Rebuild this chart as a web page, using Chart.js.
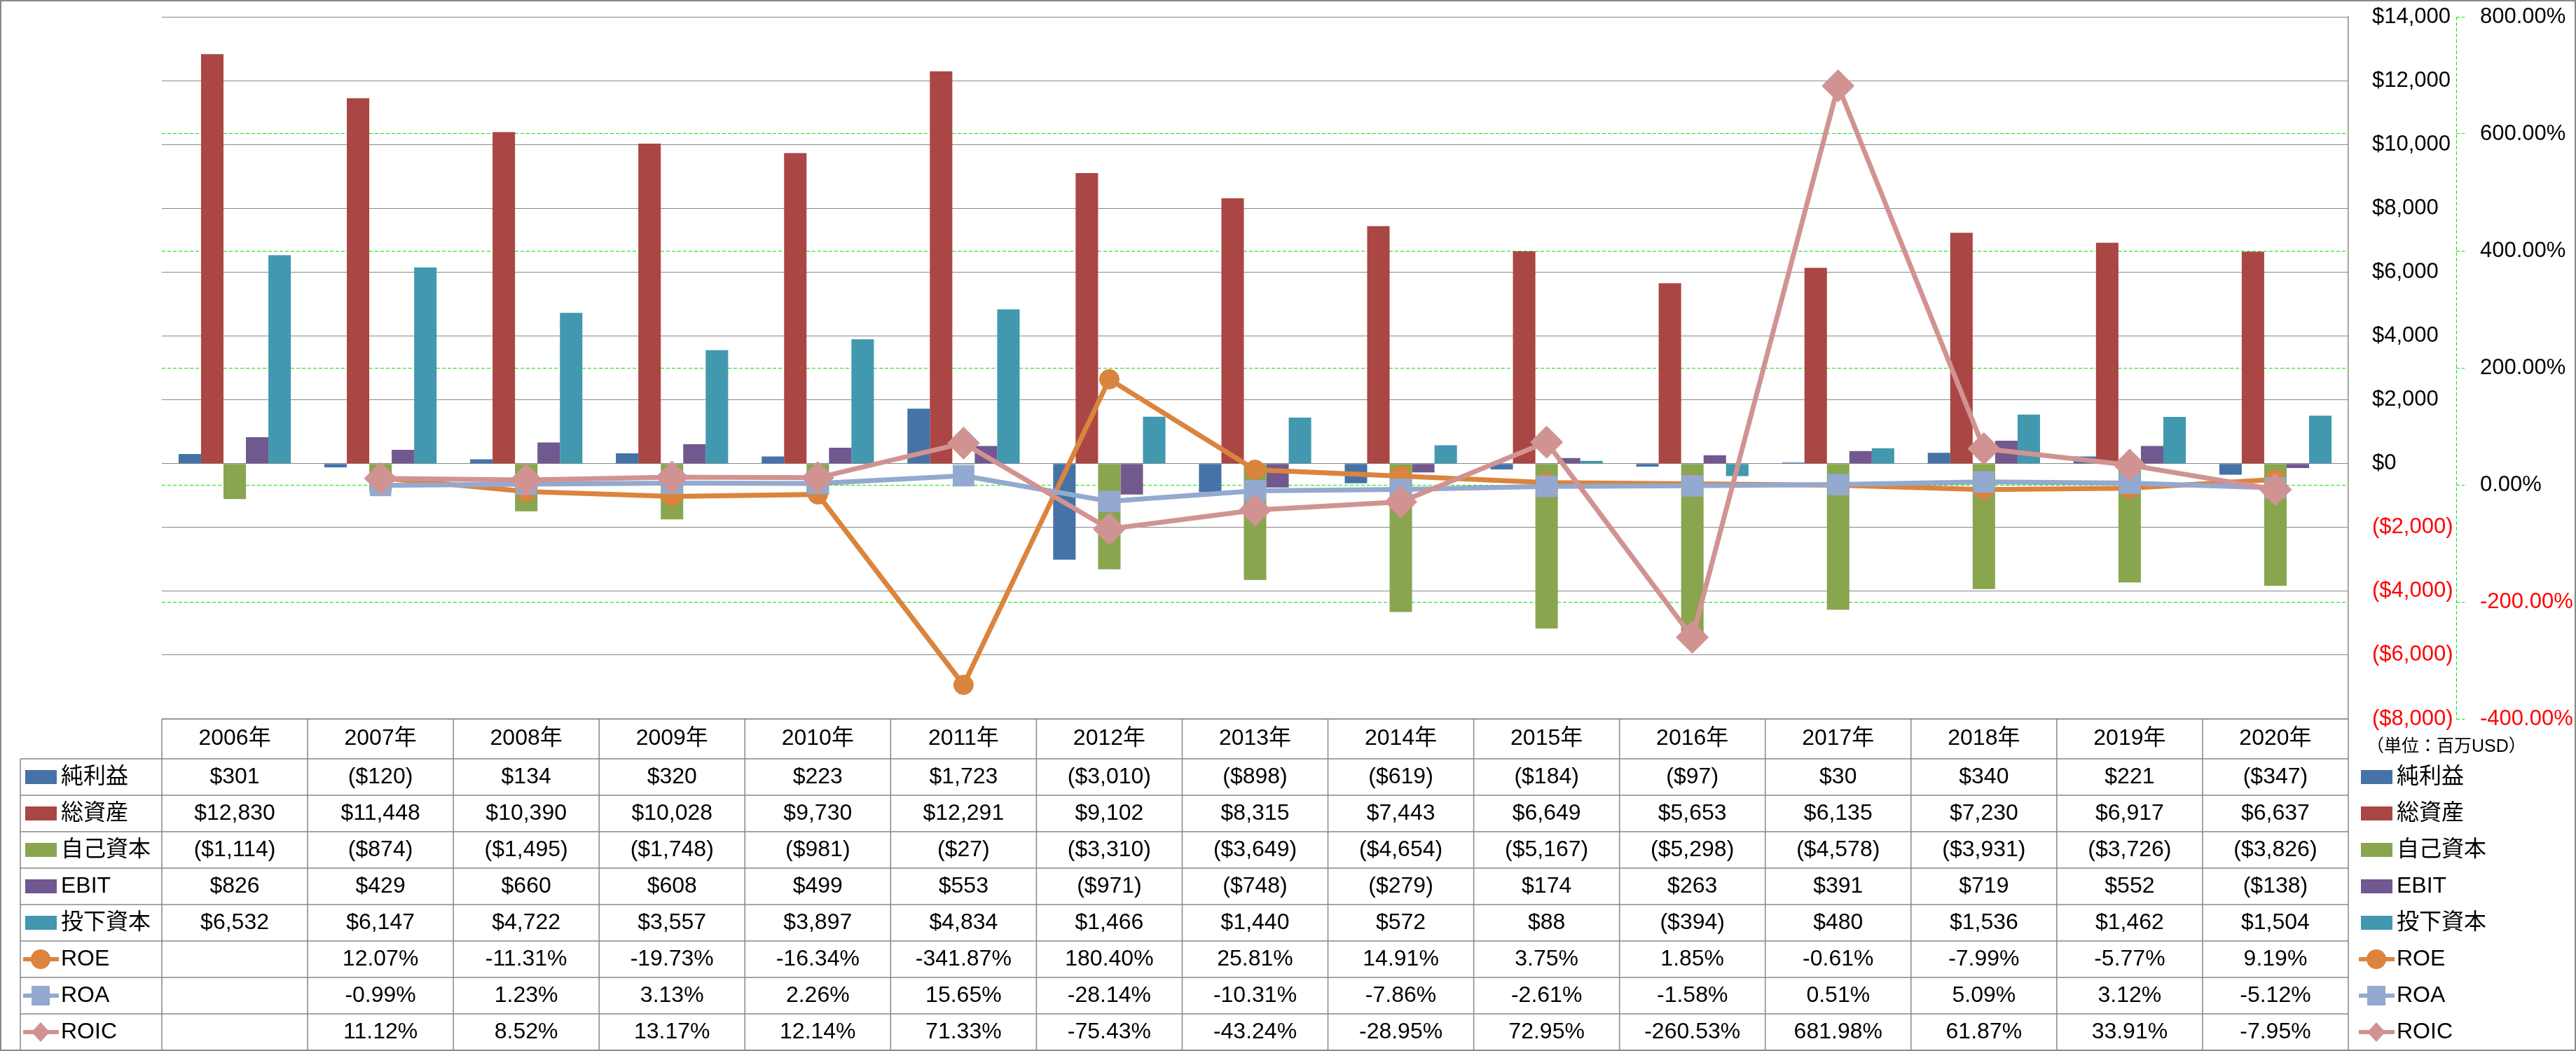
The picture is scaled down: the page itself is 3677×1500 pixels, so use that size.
<!DOCTYPE html>
<html>
<head>
<meta charset="utf-8">
<title>財務指標の推移</title>
<script src="https://cdn.jsdelivr.net/npm/chart.js@4/dist/chart.umd.min.js"></script>
<style>
  html, body { margin: 0; padding: 0; background: #fff; }
  canvas { display: block; }
</style>
</head>
<body>
<canvas id="mainChart" width="3677" height="1500"></canvas>
<script>
// Categories (years)
var years = ['2006年', '2007年', '2008年', '2009年', '2010年', '2011年', '2012年', '2013年',
             '2014年', '2015年', '2016年', '2017年', '2018年', '2019年', '2020年'];

// Bar series (million USD)
var netIncome = [301, -120, 134, 320, 223, 1723, -3010, -898, -619, -184, -97, 30, 340, 221, -347];
var totalAssets = [12830, 11448, 10390, 10028, 9730, 12291, 9102, 8315, 7443, 6649, 5653, 6135, 7230, 6917, 6637];
var equity = [-1114, -874, -1495, -1748, -981, -27, -3310, -3649, -4654, -5167, -5298, -4578, -3931, -3726, -3826];
var ebit = [826, 429, 660, 608, 499, 553, -971, -748, -279, 174, 263, 391, 719, 552, -138];
var investedCapital = [6532, 6147, 4722, 3557, 3897, 4834, 1466, 1440, 572, 88, -394, 480, 1536, 1462, 1504];

// Line series (percent)
var roe = [null, 12.07, -11.31, -19.73, -16.34, -341.87, 180.40, 25.81, 14.91, 3.75, 1.85, -0.61, -7.99, -5.77, 9.19];
var roa = [null, -0.99, 1.23, 3.13, 2.26, 15.65, -28.14, -10.31, -7.86, -2.61, -1.58, 0.51, 5.09, 3.12, -5.12];
var roic = [null, 11.12, 8.52, 13.17, 12.14, 71.33, -75.43, -43.24, -28.95, 72.95, -260.53, 681.98, 61.87, 33.91, -7.95];

// Axis ranges: [min, max, step]
var moneyTicks = [-8000, 14000, 2000];
var percentTicks = [-400, 800, 200];
var unitLabel = '（単位：百万USD）';

var fontStack = "'Liberation Sans', 'Noto Sans CJK JP', sans-serif";
var gridGray = '#888888';
var green = '#00e600';

function money(v) {
  var s = '$' + Math.abs(v).toString().replace(/\B(?=(\d{3})+(?!\d))/g, ',');
  return v < 0 ? '(' + s + ')' : s;
}

function pct(v) {
  if (v === null || v === undefined) return '';
  return v.toFixed(2) + '%';
}

function tickColor(c) {
  return c.tick.value < 0 ? '#ff0000' : '#000000';
}

// draws one legend key (bar swatch or line with marker)
function drawKey(ctx, ds, x, y) {
  ctx.save();
  ctx.fillStyle = ds.backgroundColor;
  ctx.strokeStyle = ds.borderColor || ds.backgroundColor;
  if (ds.type === 'line') {
    ctx.lineWidth = 6;
    ctx.beginPath();
    ctx.moveTo(x - 3, y);
    ctx.lineTo(x + 48, y);
    ctx.stroke();
    var cx = x + 22;
    ctx.beginPath();
    if (ds.pointStyle === 'circle') {
      ctx.arc(cx, y, 14, 0, Math.PI * 2);
    } else if (ds.pointStyle === 'rect') {
      ctx.rect(cx - 13, y - 14, 26, 28);
    } else {
      ctx.moveTo(cx, y - 14);
      ctx.lineTo(cx + 13, y);
      ctx.lineTo(cx, y + 14);
      ctx.lineTo(cx - 13, y);
      ctx.closePath();
    }
    ctx.fill();
  } else {
    ctx.fillRect(x, y - 10, 45, 20);
  }
  ctx.restore();
}

// Data table under the plot + legend on the right + outer frame
var tablePlugin = {
  id: 'dataTable',
  beforeDatasetsDraw: function(chart) {
    // dashed axis line of the percent scale
    var ctx = chart.ctx;
    var area = chart.chartArea;
    var x = Math.round(chart.scales.y1.left) + 0.5;
    ctx.save();
    ctx.strokeStyle = green;
    ctx.lineWidth = 1;
    ctx.setLineDash([5, 3]);
    ctx.beginPath();
    ctx.moveTo(x, area.top);
    ctx.lineTo(x, area.bottom);
    ctx.stroke();
    ctx.restore();
  },
  afterDraw: function(chart) {
    var ctx = chart.ctx;
    var area = chart.chartArea;
    var sets = chart.data.datasets;
    var colW = (area.right - area.left) / years.length;
    var headerH = 57;
    var rowH = 52;
    var legendLeft = 29;
    var top = area.bottom;
    var rowTop = top + headerH;
    var bottom = rowTop + rowH * sets.length;

    ctx.save();
    ctx.strokeStyle = gridGray;
    ctx.lineWidth = 1.5;
    ctx.beginPath();
    ctx.moveTo(area.left, top);
    ctx.lineTo(area.right, top);
    for (var r = 0; r <= sets.length; r++) {
      var ly = rowTop + r * rowH;
      ctx.moveTo(legendLeft, ly);
      ctx.lineTo(area.right, ly);
    }
    ctx.moveTo(legendLeft, rowTop);
    ctx.lineTo(legendLeft, bottom);
    for (var c = 0; c <= years.length; c++) {
      var lx = area.left + c * colW;
      ctx.moveTo(lx, top);
      ctx.lineTo(lx, bottom);
    }
    ctx.stroke();

    ctx.fillStyle = '#000';
    ctx.font = '32px ' + fontStack;
    ctx.textBaseline = 'middle';

    // header row
    ctx.textAlign = 'center';
    for (var i = 0; i < years.length; i++) {
      ctx.fillText(years[i], area.left + (i + 0.5) * colW, top + headerH / 2);
    }

    // rows: key + name + values, and the same key on the right side
    for (var k = 0; k < sets.length; k++) {
      var ds = sets[k];
      var cy = rowTop + (k + 0.5) * rowH;
      drawKey(ctx, ds, 36, cy);
      drawKey(ctx, ds, 3370, cy);
      ctx.fillStyle = '#000';
      ctx.textAlign = 'left';
      ctx.fillText(ds.label, 87, cy);
      ctx.fillText(ds.label, 3421, cy);
      ctx.textAlign = 'center';
      for (var j = 0; j < ds.data.length; j++) {
        var txt = ds.type === 'line' ? pct(ds.data[j]) : money(ds.data[j]);
        ctx.fillText(txt, area.left + (j + 0.5) * colW, cy);
      }
    }

    // unit note
    ctx.textAlign = 'left';
    ctx.font = '25px ' + fontStack;
    ctx.fillText(unitLabel, 3378, 1066);

    // outer frame
    ctx.strokeStyle = gridGray;
    ctx.lineWidth = 2;
    ctx.strokeRect(1, 1, chart.width - 2, chart.height - 2);
    ctx.restore();
  }
};

Chart.defaults.font.family = fontStack;
Chart.defaults.color = '#000';

var mainCtx = document.getElementById('mainChart').getContext('2d');
var mainChart = new Chart(mainCtx, {
  type: 'bar',
  data: {
    labels: years,
    datasets: [
      { label: '純利益', data: netIncome, backgroundColor: '#4572A7', yAxisID: 'y', order: 3 },
      { label: '総資産', data: totalAssets, backgroundColor: '#AA4643', yAxisID: 'y', order: 3 },
      { label: '自己資本', data: equity, backgroundColor: '#89A54E', yAxisID: 'y', order: 3 },
      { label: 'EBIT', data: ebit, backgroundColor: '#71588F', yAxisID: 'y', order: 3 },
      { label: '投下資本', data: investedCapital, backgroundColor: '#4198AF', yAxisID: 'y', order: 3 },
      {
        type: 'line', label: 'ROE', data: roe, yAxisID: 'y1', order: 2,
        borderColor: '#DB843D', backgroundColor: '#DB843D', borderWidth: 7,
        pointStyle: 'circle', pointRadius: 14, pointBorderWidth: 1,
        pointBackgroundColor: '#DB843D', pointBorderColor: '#DB843D'
      },
      {
        type: 'line', label: 'ROA', data: roa, yAxisID: 'y1', order: 1,
        borderColor: '#93A9CF', backgroundColor: '#93A9CF', borderWidth: 7,
        pointStyle: 'rect', pointRadius: 21, pointBorderWidth: 1,
        pointBackgroundColor: '#93A9CF', pointBorderColor: '#93A9CF'
      },
      {
        type: 'line', label: 'ROIC', data: roic, yAxisID: 'y1', order: 0,
        borderColor: '#D19392', backgroundColor: '#D19392', borderWidth: 7,
        pointStyle: 'rectRot', pointRadius: 23, pointBorderWidth: 1,
        pointBackgroundColor: '#D19392', pointBorderColor: '#D19392'
      }
    ]
  },
  options: {
    responsive: false,
    devicePixelRatio: 1,
    animation: false,
    layout: { padding: { left: 231, top: 21, right: 0, bottom: 474 } },
    datasets: { bar: { categoryPercentage: 0.77, barPercentage: 1.0 } },
    plugins: {
      legend: { display: false },
      tooltip: { enabled: false }
    },
    scales: {
      x: { display: false, offset: true },
      y: {
        position: 'right',
        min: moneyTicks[0],
        max: moneyTicks[1],
        ticks: {
          stepSize: moneyTicks[2],
          padding: 34,
          font: { size: 31 },
          color: tickColor,
          callback: function(v) { return money(v); }
        },
        grid: { color: gridGray, lineWidth: 1, drawTicks: false },
        border: { display: true, color: gridGray, width: 1.5 },
        afterFit: function(s) {
          s.width = 154;
          s.paddingTop = 0;
          s.paddingBottom = 0;
        }
      },
      y1: {
        position: 'right',
        min: percentTicks[0],
        max: percentTicks[1],
        ticks: {
          stepSize: percentTicks[2],
          padding: 22,
          font: { size: 31 },
          color: tickColor,
          callback: function(v) { return v.toFixed(2) + '%'; }
        },
        grid: {
          // no green line on the top and bottom edges, those stay gray
          color: function(c) {
            var v = c.tick ? c.tick.value : 0;
            return (v === percentTicks[0] || v === percentTicks[1]) ? 'rgba(0,0,0,0)' : green;
          },
          tickColor: green,
          lineWidth: 1,
          tickLength: 12,
          tickBorderDash: [5, 3]
        },
        border: { display: false, dash: [5, 3] },
        afterFit: function(s) {
          s.width = 171;
          s.paddingTop = 0;
          s.paddingBottom = 0;
        }
      }
    }
  },
  plugins: [tablePlugin]
});
</script>
</body>
</html>
